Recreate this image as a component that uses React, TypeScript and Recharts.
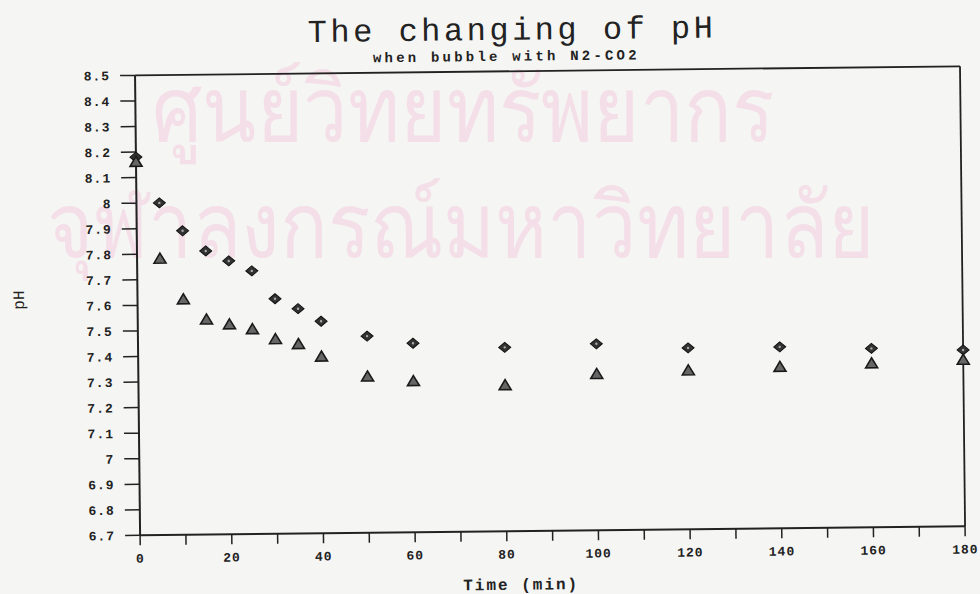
import { ScatterChart, Scatter, XAxis, YAxis, ReferenceLine } from 'recharts';

// time in minutes
const TIMES = [0, 5, 10, 15, 20, 25, 30, 35, 40, 50, 60, 80, 100, 120, 140, 160, 180];
// diamonds (upper series) and triangles (lower series)
const PH_DIAMOND = [8.18, 8.0, 7.89, 7.81, 7.77, 7.73, 7.62, 7.58, 7.53, 7.47, 7.44, 7.42, 7.43, 7.41, 7.41, 7.4, 7.39];
const PH_TRIANGLE = [8.16, 7.78, 7.62, 7.54, 7.52, 7.5, 7.46, 7.44, 7.39, 7.31, 7.29, 7.27, 7.31, 7.32, 7.33, 7.34, 7.35];

const X_TICKS = [0, 10, 20, 30, 40, 50, 60, 70, 80, 90, 100, 110, 120, 130, 140, 150, 160, 170, 180];
const Y_TICKS = [6.7, 6.8, 6.9, 7, 7.1, 7.2, 7.3, 7.4, 7.5, 7.6, 7.7, 7.8, 7.9, 8, 8.1, 8.2, 8.3, 8.4, 8.5];

const TITLE = 'The changing of pH';
const SUBTITLE = 'when bubble with N2-CO2';
const X_LABEL = 'Time (min)';
const Y_LABEL = 'pH';
const WATERMARK = ['ศูนย์วิทยทรัพยากร', 'จุฬาลงกรณ์มหาวิทยาลัย'];

const INK = '#222';
const MONO = '"Liberation Mono", "Courier New", monospace';
const STAMP = '#f4dfe8';

const diamondData = TIMES.map((t, i) => ({ x: t, y: PH_DIAMOND[i] }));
const triangleData = TIMES.map((t, i) => ({ x: t, y: PH_TRIANGLE[i] }));

const Diamond = (props: any) => {
  const { cx, cy } = props;
  return (
    <g>
      <path d={`M${cx},${cy - 5}L${cx + 6},${cy}L${cx},${cy + 5}L${cx - 6},${cy}Z`} fill="#333" stroke="#111" strokeWidth={1} />
      <circle cx={cx} cy={cy} r={1.2} fill="#aaa" />
    </g>
  );
};

const Triangle = (props: any) => {
  const { cx, cy } = props;
  return (
    <path d={`M${cx},${cy - 6}L${cx + 6},${cy + 4}L${cx - 6},${cy + 4}Z`} fill="#666" stroke="#1a1a1a" strokeWidth={1.6} />
  );
};

const tickStyle = { fill: INK, fontSize: 13, fontWeight: 700, fontFamily: MONO, letterSpacing: 1 };

const stampStyle = {
  position: 'absolute' as const,
  fontFamily: '"Noto Sans", sans-serif',
  fontSize: 90,
  lineHeight: '110px',
  color: STAMP,
  whiteSpace: 'nowrap' as const,
  transformOrigin: 'left top',
};

export default function App() {
  return (
    <div style={{ position: 'absolute', left: 0, top: 0, width: 980, height: 594, background: '#f5f5f3', overflow: 'hidden' }}>
      {/* library stamp behind the plot */}
      <div style={{ ...stampStyle, left: 152, top: 51, transform: 'scaleX(0.88)' }}>{WATERMARK[0]}</div>
      <div style={{ ...stampStyle, left: 47, top: 167, transform: 'scaleX(0.88)' }}>{WATERMARK[1]}</div>

      {/* the scan is tilted a little */}
      <div style={{ position: 'absolute', left: 0, top: 0, width: 980, height: 594, transform: 'rotate(-0.63deg)' }}>
        <div style={{ position: 'absolute', left: 515, top: 15.5, transform: 'translateX(-50%)', fontFamily: MONO, fontSize: 32, lineHeight: '32px', letterSpacing: 3.5, color: INK, whiteSpace: 'nowrap' }}>
          {TITLE}
        </div>
        <div style={{ position: 'absolute', left: 509, top: 50, transform: 'translateX(-50%)', fontFamily: MONO, fontWeight: 700, fontSize: 14, lineHeight: '14px', letterSpacing: 3.2, color: INK, whiteSpace: 'nowrap' }}>
          {SUBTITLE}
        </div>
        <div style={{ position: 'absolute', left: 518, top: 578, transform: 'translateX(-50%)', fontFamily: MONO, fontWeight: 700, fontSize: 16, lineHeight: '16px', letterSpacing: 2, color: INK, whiteSpace: 'nowrap' }}>
          {X_LABEL}
        </div>
        <div style={{ position: 'absolute', left: 20, top: 295, transform: 'translate(-50%, -50%) rotate(-90deg)', fontFamily: MONO, fontSize: 16, lineHeight: '16px', color: INK, whiteSpace: 'nowrap' }}>
          {Y_LABEL}
        </div>

        <div style={{ position: 'absolute', left: 0, top: 0 }}>
          <ScatterChart width={980} height={594} margin={{ top: 71.5, right: 17.5, bottom: 0, left: 0 }}>
            <XAxis
              type="number"
              dataKey="x"
              domain={[0, 180]}
              ticks={X_TICKS}
              interval={0}
              tickFormatter={(v: number) => (v % 20 === 0 ? String(v) : '')}
              tick={tickStyle}
              tickSize={10}
              tickMargin={8}
              height={62.5}
              axisLine={{ stroke: INK, strokeWidth: 2 }}
              tickLine={{ stroke: INK, strokeWidth: 1.5 }}
            />
            <YAxis
              type="number"
              dataKey="y"
              domain={[6.7, 8.5]}
              ticks={Y_TICKS}
              interval={0}
              tickFormatter={(v: number) => String(v)}
              tick={tickStyle}
              tickSize={15}
              tickMargin={10}
              width={137.5}
              axisLine={{ stroke: INK, strokeWidth: 2 }}
              tickLine={{ stroke: INK, strokeWidth: 1.5 }}
            />
            <ReferenceLine y={8.5} stroke={INK} strokeWidth={1.8} />
            <ReferenceLine x={180} stroke={INK} strokeWidth={1.8} />
            <Scatter data={diamondData} shape={Diamond} isAnimationActive={false} />
            <Scatter data={triangleData} shape={Triangle} isAnimationActive={false} />
          </ScatterChart>
        </div>
      </div>
    </div>
  );
}
